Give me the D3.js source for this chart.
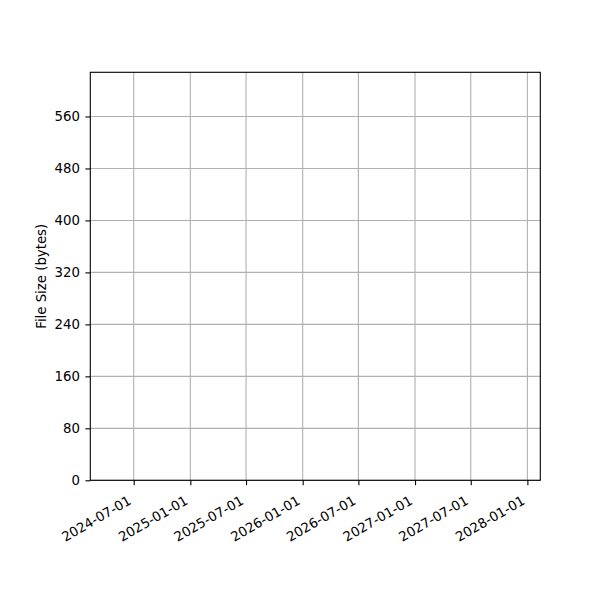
<!DOCTYPE html>
<html lang="en">
<head>
  <meta charset="UTF-8">
  <title>File Size</title>
  <script src="https://d3js.org/d3.v7.min.js"></script>
  <style>
    body { margin: 0; background: #ffffff; }
    svg { display: block; }
  </style>
</head>
<body>
<svg id="chart" width="600" height="600"></svg>
<script>
  // the series is empty in the reference: no points plotted
  const dates = [];
  const fileSizes = [];

  const xDomain = ["2024-02-11", "2028-02-12"];
  const xTicks = ["2024-07-01", "2025-01-01", "2025-07-01", "2026-01-01",
                  "2026-07-01", "2027-01-01", "2027-07-01", "2028-01-01"];
  const yDomain = [0, 628];
  const yTicks = [0, 80, 160, 240, 320, 400, 480, 560];

  const parse = d3.utcParse("%Y-%m-%d");
  const fmt = d3.utcFormat("%Y-%m-%d");
  const FONT = "DejaVu Sans, sans-serif";
  const FS = 13.3;

  // plot area (window.top is taken, so use a box object)
  const box = { left: 90.3, right: 540.3, top: 72.3, bottom: 480.3 };
  const svg = d3.select("#chart");

  const x = d3.scaleUtc().domain(xDomain.map(parse)).range([box.left, box.right]);
  const y = d3.scaleLinear().domain(yDomain).range([box.bottom, box.top]);

  // grid
  const grid = svg.append("g").attr("stroke", "#b0b0b0").attr("stroke-width", 1.1);
  grid.selectAll("line.gx").data(xTicks.map(parse)).join("line")
    .attr("class", "gx")
    .attr("x1", d => x(d)).attr("x2", d => x(d))
    .attr("y1", box.top).attr("y2", box.bottom);
  grid.selectAll("line.gy").data(yTicks).join("line")
    .attr("class", "gy")
    .attr("x1", box.left).attr("x2", box.right)
    .attr("y1", d => y(d)).attr("y2", d => y(d));

  // series (empty)
  svg.append("path")
    .datum(dates.map((d, i) => [parse(d), fileSizes[i]]))
    .attr("fill", "none").attr("stroke", "#1f77b4").attr("stroke-width", 2)
    .attr("d", d3.line().x(d => x(d[0])).y(d => y(d[1])));

  // x axis, labels turned 30deg like autofmt_xdate
  const xAxis = svg.append("g")
    .attr("transform", `translate(0,${box.bottom})`)
    .call(d3.axisBottom(x).tickValues(xTicks.map(parse)).tickFormat(fmt)
      .tickSize(4.9).tickPadding(0));
  xAxis.attr("font-family", FONT).attr("font-size", FS);
  xAxis.select(".domain").remove();
  xAxis.selectAll(".tick line").attr("stroke", "#000").attr("stroke-width", 1.1);
  xAxis.selectAll(".tick text")
    .attr("fill", "#000")
    .attr("text-anchor", "end")
    .attr("dy", null)
    .attr("y", 0)
    .attr("transform", "translate(-2,23) rotate(-30)");

  // y axis
  const yAxis = svg.append("g")
    .attr("transform", `translate(${box.left},0)`)
    .call(d3.axisLeft(y).tickValues(yTicks).tickSize(4.9).tickPadding(5.5));
  yAxis.attr("font-family", FONT).attr("font-size", FS);
  yAxis.select(".domain").remove();
  yAxis.selectAll(".tick line").attr("stroke", "#000").attr("stroke-width", 1.1);
  yAxis.selectAll(".tick text").attr("fill", "#000");

  // frame
  svg.append("rect")
    .attr("x", box.left).attr("y", box.top)
    .attr("width", box.right - box.left).attr("height", box.bottom - box.top)
    .attr("fill", "none").attr("stroke", "#000").attr("stroke-width", 1.1);

  svg.append("text")
    .attr("transform", `translate(46,${(box.top + box.bottom) / 2}) rotate(-90)`)
    .attr("text-anchor", "middle")
    .attr("font-family", FONT)
    .attr("font-size", FS)
    .text("File Size (bytes)");
</script>
</body>
</html>
